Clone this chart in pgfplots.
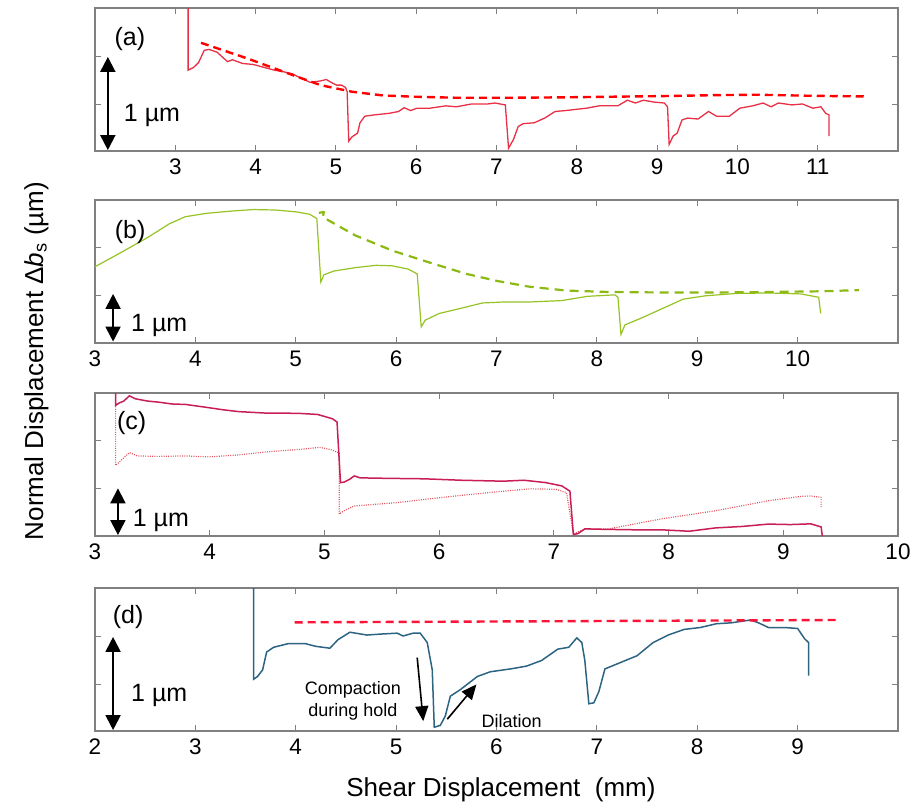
\documentclass[border=0pt]{standalone}
\usepackage{fontspec}
\setmainfont{Liberation Sans}
\usepackage{pgfplots}
\pgfplotsset{compat=1.18}
\usetikzlibrary{arrows.meta}

\definecolor{aSolid}{RGB}{232,48,70}
\definecolor{aDash}{RGB}{255,0,0}
\definecolor{bGreen}{RGB}{150,195,35}
\definecolor{bDash}{RGB}{140,185,20}
\definecolor{cSolid}{RGB}{200,30,85}
\definecolor{cDot}{RGB}{225,85,95}
\definecolor{dTeal}{RGB}{45,100,130}
\definecolor{dDash}{RGB}{250,20,55}
\definecolor{frame}{RGB}{128,128,128}

\tikzset{
  scalebar/.style={black, line width=2pt, {Triangle[length=15pt,width=15pt]}-{Triangle[length=15pt,width=15pt]}},
  tag/.style={font=\fontsize{25}{26}\selectfont},
}
\pgfplotsset{
  panel/.style={
    scale only axis, width=803pt, height=143pt, anchor=north west,
    axis line style={draw=frame, line width=1.1pt},
    tick style={draw=frame, line width=0.9pt},
    major tick length=6pt, tick align=inside,
    yticklabels={},
    clip mode=individual,
    /pgf/number format/assume math mode=true,
    ticklabel style={font=\fontsize{22.5}{24}\selectfont},
    xticklabel style={yshift=-4pt},
  },
}

\begin{document}
\begin{tikzpicture}
\useasboundingbox (0pt,0pt) rectangle (914pt,-804pt);

% (a)
\begin{axis}[panel, at={(95pt,-8pt)}, xmin=2, xmax=12, ymin=0, ymax=1.52,
  xtick={3,4,5,6,7,8,9,10,11}, ytick={0.5,1}]
\addplot[aSolid, line width=1.3pt] coordinates {
(3.16,1.70) (3.16,0.86) (3.23,0.89) (3.29,0.94) (3.36,1.07) (3.42,1.08) (3.52,1.05) (3.65,0.95) (3.71,0.97) (3.84,0.93) (3.97,0.92) (4.10,0.89) (4.23,0.86) (4.36,0.84) (4.46,0.82) (4.55,0.78) (4.68,0.73) (4.81,0.745) (4.88,0.76) (4.94,0.73) (5.01,0.70) (5.07,0.70) (5.12,0.675) (5.14,0.63) (5.16,0.105) (5.20,0.15) (5.27,0.19) (5.30,0.30) (5.36,0.37) (5.49,0.385) (5.66,0.40) (5.78,0.42) (5.85,0.46) (5.93,0.43) (6.01,0.455) (6.17,0.455) (6.37,0.48) (6.50,0.47) (6.69,0.50) (6.89,0.50) (6.98,0.51) (7.11,0.49) (7.15,0.03) (7.21,0.12) (7.27,0.26) (7.33,0.29) (7.47,0.30) (7.60,0.35) (7.73,0.42) (7.86,0.43) (8.12,0.455) (8.28,0.48) (8.51,0.48) (8.63,0.54) (8.73,0.51) (8.83,0.54) (8.96,0.52) (9.09,0.51) (9.13,0.47) (9.15,0.07) (9.20,0.16) (9.25,0.19) (9.31,0.33) (9.38,0.35) (9.51,0.34) (9.64,0.42) (9.74,0.37) (9.90,0.37) (10.03,0.455) (10.19,0.48) (10.32,0.51) (10.42,0.47) (10.51,0.51) (10.68,0.49) (10.81,0.50) (10.94,0.455) (11.04,0.47) (11.10,0.40) (11.14,0.385) (11.14,0.157)
};
\addplot[aDash, line width=2.4pt, dash pattern=on 8pt off 5pt] coordinates {
(3.32,1.15) (3.91,0.98) (4.42,0.82) (4.81,0.70) (5.20,0.63) (5.59,0.59) (5.98,0.577) (6.50,0.566) (7.15,0.566) (7.79,0.57) (8.44,0.577) (9.09,0.584) (9.74,0.594) (10.25,0.598) (10.90,0.587) (11.58,0.58)
};
\draw[scalebar] (axis cs:2.16,0.01) -- (axis cs:2.16,1.0);
\node[tag] at (axis cs:2.435,1.19) {(a)};
\node[tag] at (axis cs:2.71,0.38) {1 µm};
\end{axis}

% (b)
\begin{axis}[panel, at={(95pt,-200pt)}, xmin=3, xmax=11, ymin=0, ymax=3.0,
  xtick={3,4,5,6,7,8,9,10}, ytick={1,2}]
\addplot[bGreen, line width=1.2pt] coordinates {
(3.0,1.60) (3.26,1.90) (3.53,2.22) (3.74,2.50) (3.90,2.65) (4.11,2.72) (4.37,2.77) (4.58,2.80) (4.80,2.79) (5.01,2.75) (5.14,2.70) (5.21,2.61) (5.25,1.28) (5.28,1.43) (5.38,1.51) (5.59,1.58) (5.80,1.63) (5.96,1.62) (6.12,1.55) (6.21,1.45) (6.25,0.34) (6.29,0.48) (6.43,0.62) (6.65,0.73) (6.86,0.84) (7.07,0.86) (7.33,0.86) (7.65,0.89) (7.91,0.98) (8.18,1.01) (8.21,0.96) (8.24,0.18) (8.28,0.38) (8.44,0.52) (8.65,0.72) (8.86,0.92) (9.08,0.99) (9.39,1.04) (9.71,1.05) (10.03,1.03) (10.21,0.96) (10.23,0.62)
};
\addplot[bDash, line width=2.2pt, line join=round, dash pattern=on 9pt off 6pt] coordinates {
(5.23,2.73) (5.28,2.75) (5.27,2.64) (5.59,2.26) (5.96,1.94) (6.33,1.69) (6.70,1.45) (7.01,1.30) (7.33,1.18) (7.70,1.10) (8.12,1.07) (8.65,1.06) (9.18,1.06) (9.71,1.07) (10.24,1.085) (10.61,1.11)
};
\draw[scalebar] (axis cs:3.18,0.03) -- (axis cs:3.18,1.03);
\node[tag] at (axis cs:3.35,2.33) {(b)};
\node[tag] at (axis cs:3.64,0.36) {1 µm};
\end{axis}

% (c)
\begin{axis}[panel, at={(95pt,-393pt)}, xmin=3, xmax=10, ymin=0, ymax=3.0,
  xtick={3,4,5,6,7,8,9,10}, ytick={1,2}]
\addplot[cDot, line width=1.2pt, dash pattern=on 1pt off 1.3pt] coordinates {
(3.18,3.2) (3.18,1.48) (3.22,1.57) (3.30,1.75) (3.37,1.68) (3.55,1.67) (3.79,1.68) (3.99,1.66) (4.25,1.70) (4.52,1.77) (4.80,1.82) (4.96,1.86) (5.06,1.81) (5.13,1.74) (5.13,0.46) (5.17,0.53) (5.26,0.63) (5.63,0.70) (6.10,0.83) (6.56,0.94) (6.79,0.99) (7.02,0.98) (7.11,0.91) (7.17,0.05) (7.27,0.14) (7.48,0.15) (7.94,0.36) (8.41,0.53) (8.87,0.74) (9.15,0.83) (9.24,0.84) (9.33,0.81) (9.33,0.58)
};
\addplot[cSolid, line width=1.5pt] coordinates {
(3.18,3.2) (3.18,2.74) (3.21,2.79) (3.25,2.83) (3.30,2.94) (3.35,2.88) (3.46,2.83) (3.55,2.81) (3.67,2.77) (3.79,2.76) (3.97,2.70) (4.11,2.65) (4.25,2.61) (4.48,2.58) (4.62,2.58) (4.80,2.57) (4.94,2.55) (5.07,2.46) (5.11,2.39) (5.14,1.12) (5.17,1.13) (5.22,1.19) (5.26,1.26) (5.31,1.22) (5.54,1.21) (5.87,1.20) (6.19,1.17) (6.56,1.15) (6.74,1.17) (6.93,1.12) (7.07,1.05) (7.14,0.94) (7.17,0.03) (7.21,0.05) (7.27,0.15) (7.44,0.14) (7.71,0.13) (7.94,0.13) (8.18,0.10) (8.41,0.17) (8.64,0.20) (8.87,0.25) (9.06,0.24) (9.24,0.255) (9.33,0.19) (9.34,0.0)
};
\draw[scalebar] (axis cs:3.20,0.02) -- (axis cs:3.20,1.0);
\node[tag] at (axis cs:3.32,2.375) {(c)};
\node[tag] at (axis cs:3.574,0.33) {1 µm};
\end{axis}

% (d)
\begin{axis}[panel, at={(95pt,-588pt)}, xmin=2, xmax=10, ymin=0, ymax=1.52,
  xtick={2,3,4,5,6,7,8,9}, ytick={0.5,1}]
\addplot[dTeal, line width=1.5pt] coordinates {
(3.58,1.70) (3.58,0.55) (3.62,0.58) (3.67,0.65) (3.71,0.84) (3.78,0.89) (3.93,0.93) (4.09,0.93) (4.20,0.90) (4.34,0.88) (4.42,0.97) (4.54,1.05) (4.71,1.02) (4.84,1.03) (5.01,1.04) (5.07,1.01) (5.17,1.04) (5.24,1.04) (5.31,0.94) (5.36,0.65) (5.38,0.04) (5.44,0.06) (5.49,0.16) (5.54,0.37) (5.64,0.44) (5.81,0.58) (5.94,0.63) (6.14,0.66) (6.30,0.69) (6.45,0.75) (6.61,0.87) (6.72,0.89) (6.80,0.99) (6.85,0.94) (6.88,0.75) (6.92,0.29) (6.97,0.30) (7.02,0.42) (7.08,0.66) (7.24,0.73) (7.40,0.80) (7.56,0.94) (7.71,1.02) (7.87,1.08) (8.03,1.10) (8.19,1.14) (8.34,1.15) (8.53,1.18) (8.61,1.15) (8.71,1.10) (8.87,1.10) (9.00,1.09) (9.07,0.98) (9.11,0.94) (9.11,0.59)
};
\addplot[dDash, line width=2.4pt, dash pattern=on 8pt off 5pt] coordinates {
(3.99,1.155) (9.42,1.18)
};
\draw[scalebar] (axis cs:2.18,0.01) -- (axis cs:2.18,1.0);
\node[tag] at (axis cs:2.33,1.21) {(d)};
\node[tag] at (axis cs:2.64,0.38) {1 µm};
\node[align=center, font=\fontsize{18}{22}\selectfont] at (axis cs:4.57,0.316) {Compaction\\during hold};
\draw[black, line width=1.6pt, -{Triangle[length=15pt,width=13pt]}] (axis cs:5.21,0.78) -- (axis cs:5.27,0.105);
\node[font=\fontsize{18}{22}\selectfont] at (axis cs:6.15,0.105) {Dilation};
\draw[black, line width=1.6pt, -{Triangle[length=15pt,width=13pt]}] (axis cs:5.51,0.126) -- (axis cs:5.80,0.495);
\end{axis}

\node[rotate=90, anchor=base, font=\fontsize{26}{28}\selectfont] at (43pt,-361pt)
  {Normal Displacement Δ\textit{b}\textsubscript{s} (µm)};
\node[anchor=base, font=\fontsize{26}{28}\selectfont] at (501pt,-796pt)
  {Shear Displacement \ (mm)};
\end{tikzpicture}
\end{document}
